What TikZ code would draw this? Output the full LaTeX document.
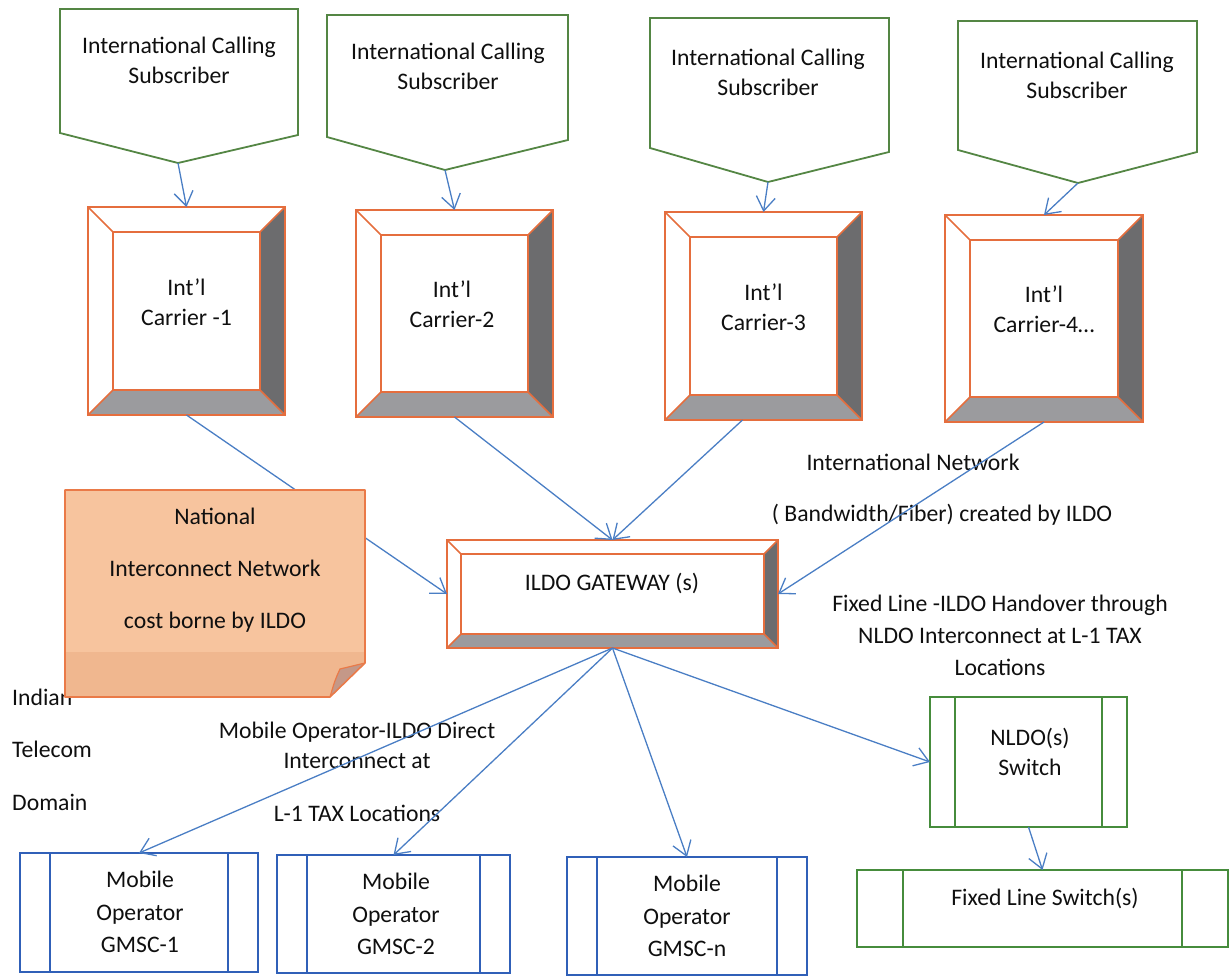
\documentclass[tikz,border=0pt]{standalone}
\usepackage{fontspec}
\setmainfont{Carlito}
\usetikzlibrary{calc,arrows.meta}
\definecolor{pgreen}{RGB}{84,134,68}
\definecolor{sgreen}{RGB}{70,140,60}
\definecolor{bevor}{RGB}{229,110,62}
\definecolor{bevdarkc}{RGB}{108,108,110}
\definecolor{bevlightc}{RGB}{155,155,158}
\definecolor{arrblue}{RGB}{74,126,196}
\definecolor{boxblue}{RGB}{48,96,184}
\definecolor{notefill}{RGB}{247,196,158}
\definecolor{noteband}{RGB}{240,183,143}
\definecolor{noteline}{RGB}{234,122,72}
\definecolor{foldc}{RGB}{196,152,136}
\definecolor{txtc}{RGB}{15,15,15}
\tikzset{
 txt/.style={font=\fontsize{23.7}{30}\selectfont, text=txtc, align=center, inner sep=0pt},
 pent/.style={draw=pgreen, line width=1.8pt, line join=miter},
 frame/.style={inner sep=0pt, outer sep=0pt},
 bevline/.style={draw=bevor, line width=1.6pt},
 bevdark/.style={fill=bevdarkc},
 bevlight/.style={fill=bevlightc},
 mob/.style={frame, draw=boxblue, line width=2pt},
 sw/.style={frame, draw=sgreen, line width=2pt},
 arr/.style={draw=arrblue, line width=1.3pt, -{Straight Barb[length=14pt,width=19pt]}},
}
\newcommand\bevelbox[2]{%
  \fill[bevdark] ($(#1.north east)+(-#2,#2)$) -- (#1.north east) -- (#1.south east) -- ($(#1.south east)+(-#2,-#2)$) -- cycle;
  \fill[bevlight] ($(#1.south west)+(#2,-#2)$) -- ($(#1.south east)+(-#2,-#2)$) -- (#1.south east) -- (#1.south west) -- cycle;
  \draw[bevline] (#1.north west) -- ($(#1.north west)+(#2,#2)$) (#1.north east) -- ($(#1.north east)+(-#2,#2)$) (#1.south west) -- ($(#1.south west)+(#2,-#2)$) (#1.south east) -- ($(#1.south east)+(-#2,-#2)$);
  \draw[bevline] ($(#1.north west)+(#2,#2)$) rectangle ($(#1.south east)+(-#2,-#2)$);
  \draw[bevline] (#1.north west) rectangle (#1.south east);
}
\newcommand\sidebars[3]{%
  \draw[#3, line width=2pt] ($(#1.north west)+(#2,0)$) -- ($(#1.south west)+(#2,0)$) ($(#1.north east)+(-#2,0)$) -- ($(#1.south east)+(-#2,0)$);
}
\begin{document}
\begin{tikzpicture}[x=1pt,y=-1pt]
\useasboundingbox (0,0) rectangle (1230,976);

% subscriber pentagons
\draw[pent] (60,9) -- (298,9) -- (298,135) -- (178,163) -- (60,133) -- cycle;
\draw[pent] (327,15) -- (568,15) -- (568,140) -- (445,170) -- (327,137) -- cycle;
\draw[pent] (650,18) -- (889,18) -- (889,152) -- (768,182) -- (650,148) -- cycle;
\draw[pent] (958,21) -- (1197,21) -- (1197,152) -- (1078,183) -- (958,150) -- cycle;
\coordinate (t1) at (178,163);
\coordinate (t2) at (445,170);
\coordinate (t3) at (768,182);
\coordinate (t4) at (1078,183);
\node[txt] (p1) at (179,60) {International Calling\\Subscriber};
\node[txt] (p2) at (448,66) {International Calling\\Subscriber};
\node[txt] (p3) at (768,72) {International Calling\\Subscriber};
\node[txt] (p4) at (1077,75) {International Calling\\Subscriber};

% carriers
\node[frame, minimum width=197pt, minimum height=208pt] (c1) at (186.5,311) {};
\node[frame, minimum width=197pt, minimum height=207pt] (c2) at (454.5,313.5) {};
\node[frame, minimum width=197pt, minimum height=208pt] (c3) at (763.5,316) {};
\node[frame, minimum width=198pt, minimum height=207pt] (c4) at (1044,318.5) {};
\bevelbox{c1}{25}
\bevelbox{c2}{25}
\bevelbox{c3}{25}
\bevelbox{c4}{25}
\node[txt] (c1t) at (186.5,302) {Int’l\\Carrier -1};
\node[txt] (c2t) at (452,304.5) {Int’l\\Carrier-2};
\node[txt] (c3t) at (763.5,307) {Int’l\\Carrier-3};
\node[txt] (c4t) at (1044,309.5) {Int’l\\Carrier-4…};

% gateway
\node[frame, minimum width=331pt, minimum height=108pt] (g) at (612.5,594) {};
\bevelbox{g}{14}
\node[txt] (gt) at (612,583) {ILDO GATEWAY (s)};

% arrows top
\draw[arr] (t1) -- (c1.north);
\draw[arr] (t2) -- (c2.north);
\draw[arr] (t3) -- (c3.north);
\draw[arr] (t4) -- (c4.north);

% labels
\node[txt] (lab1) at (913,462) {International Network};
\node[txt] (lab2) at (942,515) {( Bandwidth/Fiber) created by ILDO};
\node[txt, font=\fontsize{23.7}{32}\selectfont] (lab3) at (1000,635) {Fixed Line -ILDO Handover through\\NLDO Interconnect at L-1 TAX\\Locations};
\node[txt] (lab4) at (357,745) {Mobile Operator-ILDO Direct\\Interconnect at};
\node[txt] (lab5) at (357,813) {L-1 TAX Locations};
\node[txt, anchor=west] (ind1) at (12,697) {Indian};
\node[txt, anchor=west] (ind2) at (12,749) {Telecom};
\node[txt, anchor=west] (ind3) at (12,802) {Domain};

% carrier -> gateway
\draw[arr] (c1.south) -- (g.west);
\draw[arr] (c2.south) -- (g.north);
\draw[arr] ($(c3.south)+(-21,0)$) -- (g.north);
\draw[arr] (c4.south) -- (g.east);

% note
\begin{scope}
\clip (65,490) -- (365,490) -- (365,663) -- (330,697) -- (65,697) -- cycle;
\fill[notefill] (65,490) rectangle (365,697);
\fill[noteband] (65,652) rectangle (365,697);
\end{scope}
\fill[foldc] (330,697) .. controls (335,680) .. (340,669) -- (365,663) -- cycle;
\draw[noteline, line width=1.6pt, line join=round] (65,490) -- (365,490) -- (365,663) -- (330,697) -- (65,697) -- cycle;
\draw[noteline, line width=1.2pt] (330,697) .. controls (335,680) .. (340,669) -- (365,663);
\node[txt, font=\fontsize{23.7}{52}\selectfont] (note) at (215,570) {National\\Interconnect Network\\cost borne by ILDO};

% lower boxes
\node[mob, minimum width=238pt, minimum height=119pt] (m1) at (139,912.5) {};
\node[mob, minimum width=233pt, minimum height=118pt] (m2) at (393.5,914) {};
\node[mob, minimum width=240pt, minimum height=118pt] (m3) at (687,916) {};
\sidebars{m1}{30}{boxblue}
\sidebars{m2}{30}{boxblue}
\sidebars{m3}{30}{boxblue}
\node[txt, font=\fontsize{23.7}{32.5}\selectfont] (m1t) at (140,912) {Mobile\\Operator\\GMSC-1};
\node[txt, font=\fontsize{23.7}{32.5}\selectfont] (m2t) at (396,914) {Mobile\\Operator\\GMSC-2};
\node[txt, font=\fontsize{23.7}{32.5}\selectfont] (m3t) at (687,916) {Mobile\\Operator\\GMSC-n};

\node[sw, minimum width=197pt, minimum height=130pt] (n) at (1028.5,762) {};
\sidebars{n}{25}{sgreen}
\node[txt] (nt) at (1030,752) {NLDO(s)\\Switch};
\node[sw, minimum width=371pt, minimum height=77pt] (f) at (1042.5,908.5) {};
\sidebars{f}{46}{sgreen}
\node[txt] (ft) at (1045,898) {Fixed Line Switch(s)};

% gateway -> lower
\draw[arr] (g.south) -- (m1.north);
\draw[arr] (g.south) -- (m2.north);
\draw[arr] (g.south) -- (m3.north);
\draw[arr] (g.south) -- (n.west);
\draw[arr] (n.south) -- (f.north);
\end{tikzpicture}
\end{document}
